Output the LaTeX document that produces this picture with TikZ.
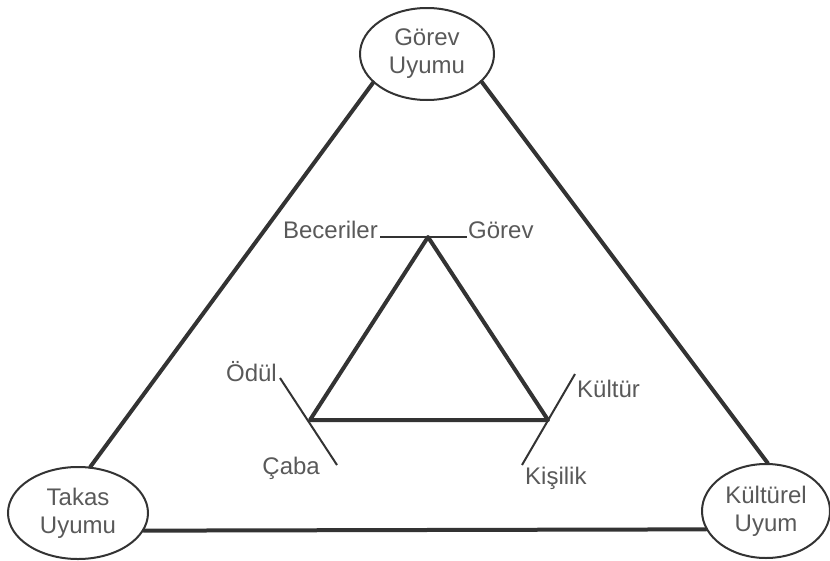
\documentclass[tikz,border=0pt]{standalone}
\usepackage{fontspec}
\setmainfont{Liberation Sans}
\usepackage{tikz}
\usetikzlibrary{shapes.geometric}
\usepackage{color}
\definecolor{darkline}{rgb}{0.2, 0.2, 0.2}
\definecolor{textgray}{rgb}{0.35, 0.35, 0.35}

\begin{document}
\begin{tikzpicture}[x=1pt, y=-1pt,
		uyum/.style={ellipse, draw=darkline, line width=2pt, inner sep=0pt, align=center, text=textgray, font=\fontsize{24}{28}\selectfont},
		kenar/.style={draw=darkline, line width=4pt, line cap=round},
		cizgi/.style={draw=darkline, line width=2pt},
		etiket/.style={text=textgray, inner sep=0pt, font=\fontsize{24}{28}\selectfont}]
		\useasboundingbox (0,0) rectangle (830,560);
		% corners:
		\node [uyum, minimum width=134, minimum height=92] (gorev) at (427,54) {Görev\\Uyumu};
		\node [uyum, minimum width=140, minimum height=92] (takas) at (78,513) {Takas\\Uyumu};
		\node [uyum, minimum width=128, minimum height=94] (kultur) at (766,511) {Kültürel\\Uyum};
		% outer triangle
		\draw [kenar] (gorev.208)--(takas.75);
		\draw [kenar] (gorev.333)--(kultur.88);
		\draw [kenar] (takas.345)--(kultur.197);
		% inner triangle
		\coordinate (ust) at (428,237);
		\coordinate (sol) at (310,420);
		\coordinate (sag) at (548,420);
		\draw [kenar, line join=round] (ust)--(sol)--(sag)--cycle;
		% ticks and labels:
		\coordinate (u1) at (380,237);
		\coordinate (u2) at (467,237);
		\coordinate (s1) at (280,378);
		\coordinate (s2) at (337,465);
		\coordinate (r1) at (575,374);
		\coordinate (r2) at (522,465);
		\draw [cizgi] (u1)--(u2);
		\draw [cizgi] (s1)--(s2);
		\draw [cizgi] (r1)--(r2);
		\node [etiket, anchor=base east, xshift=-2pt, yshift=-1pt] (beceri) at (u1) {Beceriler};
		\node [etiket, anchor=base west, xshift=1pt, yshift=-1pt] (gorevl) at (u2) {Görev};
		\node [etiket, anchor=base east, xshift=-3pt, yshift=-3pt] (odul) at (s1) {Ödül};
		\node [etiket, anchor=east, xshift=-17pt, yshift=-3pt] (caba) at (s2) {Çaba};
		\node [etiket, anchor=west, xshift=2pt, yshift=-15pt] (kulturl) at (r1) {Kültür};
		\node [etiket, anchor=west, xshift=3pt, yshift=-13pt] (kisilik) at (r2) {Kişilik};
	\end{tikzpicture}
\end{document}
